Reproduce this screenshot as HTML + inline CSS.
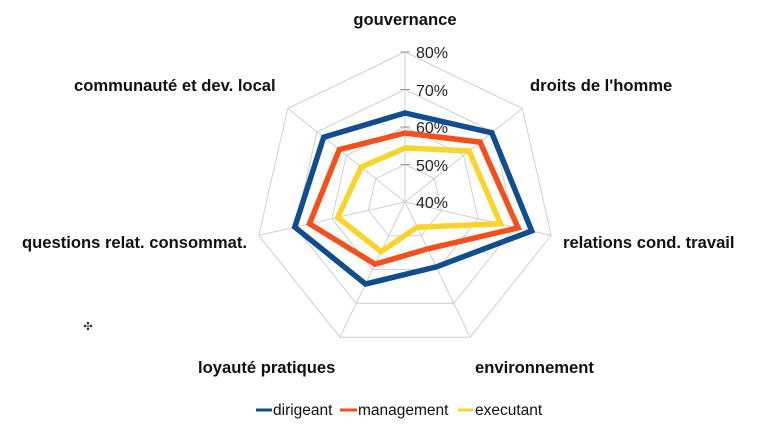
<!DOCTYPE html>
<html><head><meta charset="utf-8"><style>
body{margin:0;background:#fff;}
svg text{font-family:"Liberation Sans",Arial,sans-serif;}
</style></head><body>
<svg width="763" height="436" viewBox="0 0 763 436" xmlns="http://www.w3.org/2000/svg">
<rect width="763" height="436" fill="#fff"/>
<g fill="none" stroke="#cfcfcf" stroke-width="1">
<polygon points="405,52 522.3,108.5 551.2,235.4 470.1,337.2 339.9,337.2 258.8,235.4 287.7,108.5"/>
<polygon points="405,89.5 493,131.9 514.7,227 453.8,303.4 356.2,303.4 295.3,227 317,131.9"/>
<polygon points="405,127 463.6,155.2 478.1,218.7 437.5,269.6 372.5,269.6 331.9,218.7 346.4,155.2"/>
<polygon points="405,164.5 434.3,178.6 441.6,210.3 421.3,235.8 388.7,235.8 368.4,210.3 375.7,178.6"/>
<path d="M405,202L405,52M405,202L522.3,108.5M405,202L551.2,235.4M405,202L470.1,337.2M405,202L339.9,337.2M405,202L258.8,235.4M405,202L287.7,108.5"/>
<path d="M400,52H410M400,89.5H410M400,127H410M400,164.5H410" stroke="#999"/>
</g>
<g font-size="16" fill="#222">
<text x="416" y="58">80%</text>
<text x="416" y="96">70%</text>
<text x="416" y="133">60%</text>
<text x="416" y="171">50%</text>
<text x="416" y="208">40%</text>
</g>
<g fill="none" stroke-width="5.5" stroke-linejoin="miter">
<polygon stroke="#0f4d8f" points="405,113 491.8,132.8 531.7,230.9 436.2,266.9 365.5,284 294.8,227.1 323.7,137.2"/>
<polygon stroke="#f2501c" points="405,133 480.1,142.1 518.1,227.8 427.6,248.9 375.1,264.2 309.5,223.8 339.3,149.6"/>
<polygon stroke="#f8d42c" points="405,148 469.1,150.9 500.5,223.8 417.1,227.2 381.1,251.6 337.7,217.4 361.2,167.1"/>
</g>
<g font-size="16.6" font-weight="bold" fill="#111">
<text x="405" y="25" text-anchor="middle">gouvernance</text>
<text x="530" y="91">droits de l'homme</text>
<text x="563" y="248">relations cond. travail</text>
<text x="475" y="373">environnement</text>
<text x="198" y="373">loyauté pratiques</text>
<text x="22" y="248">questions relat. consommat.</text>
<text x="74" y="91">communauté et dev. local</text>
</g>
<text x="88" y="330" font-size="11" text-anchor="middle" fill="#222">✣</text>
<g stroke-width="3">
<line x1="256" y1="410" x2="272" y2="410" stroke="#0f4d8f"/>
<line x1="340" y1="410" x2="357" y2="410" stroke="#f2501c"/>
<line x1="458" y1="410" x2="473" y2="410" stroke="#f8d42c"/>
</g>
<g font-size="15.5" fill="#111">
<text x="273" y="415">dirigeant</text>
<text x="358" y="415">management</text>
<text x="475" y="415">executant</text>
</g>
</svg>
</body></html>
